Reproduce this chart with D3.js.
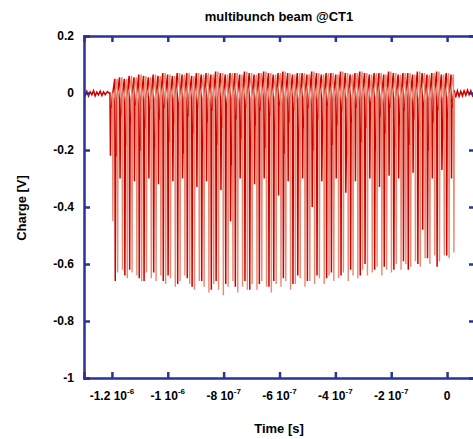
<!DOCTYPE html>
<meta charset="utf-8">
<style>
  body { margin: 0; background: #fff; }
  svg { font-family: Arial, "Liberation Sans", sans-serif; font-weight: bold; }
  .axis path, .axis line { stroke: #283593; stroke-width: 2.5px; }
  .axis text { font-size: 12px; font-weight: bold; fill: #000; font-family: Arial, "Liberation Sans", sans-serif; }
</style>
<svg width="473" height="439"></svg>
<script src="https://d3js.org/d3.v7.min.js"></script>
<script>
  // tick values and labels
  var yTicks = [0.2, 0, -0.2, -0.4, -0.6, -0.8, -1];
  var yLabels = ["0.2", "0", "-0.2", "-0.4", "-0.6", "-0.8", "-1"];
  var xTicks = [-1.2e-6, -1e-6, -8e-7, -6e-7, -4e-7, -2e-7, 0];
  var xMant = ["-1.2", "-1", "-8", "-6", "-4", "-2", "0"];
  var xExp = ["-6", "-6", "-7", "-7", "-7", "-7", ""];

  // bunch train, one entry per bunch
  var bunchStart = -1.207e-6, bunchSpacing = 1.72e-8;
  var bunchHigh = [0.0, 0.05, 0.055, 0.05, 0.06, 0.055, 0.065, 0.06, 0.055, 0.065,
    0.06, 0.07, 0.065, 0.06, 0.07, 0.065, 0.07, 0.06, 0.07, 0.065,
    0.07, 0.065, 0.075, 0.07, 0.065, 0.07, 0.07, 0.065, 0.075, 0.07,
    0.065, 0.07, 0.075, 0.07, 0.065, 0.07, 0.075, 0.07, 0.065, 0.07,
    0.07, 0.065, 0.075, 0.07, 0.065, 0.07, 0.07, 0.065, 0.075, 0.07,
    0.065, 0.07, 0.075, 0.07, 0.065, 0.07, 0.07, 0.065, 0.075, 0.07,
    0.065, 0.07, 0.07, 0.065, 0.075, 0.07, 0.065, 0.07, 0.075, 0.065,
    0.07, 0.065];
  var darkLow = [-0.22, -0.66, -0.30, -0.64, -0.62, -0.31, -0.65, -0.66, -0.30, -0.63,
    -0.32, -0.66, -0.64, -0.31, -0.67, -0.30, -0.65, -0.68, -0.33, -0.66,
    -0.31, -0.69, -0.66, -0.34, -0.67, -0.45, -0.68, -0.30, -0.66, -0.69,
    -0.32, -0.67, -0.30, -0.68, -0.66, -0.36, -0.65, -0.31, -0.67, -0.64,
    -0.30, -0.66, -0.40, -0.64, -0.31, -0.65, -0.63, -0.30, -0.64, -0.35,
    -0.62, -0.31, -0.64, -0.60, -0.30, -0.62, -0.33, -0.61, -0.29, -0.62,
    -0.30, -0.59, -0.62, -0.28, -0.60, -0.48, -0.58, -0.30, -0.61, -0.27,
    -0.57, -0.30];
  var darkMid = [-0.05, -0.22, -0.08, -0.18, -0.10, -0.04, -0.20, -0.12, -0.06, -0.19,
    -0.09, -0.05, -0.17, -0.11, -0.04, -0.21, -0.08, -0.14, -0.05, -0.20,
    -0.10, -0.06, -0.18, -0.12, -0.04, -0.25, -0.09, -0.16, -0.05, -0.20,
    -0.11, -0.06, -0.19, -0.08, -0.13, -0.04, -0.21, -0.10, -0.06, -0.17,
    -0.12, -0.05, -0.20, -0.09, -0.15, -0.04, -0.18, -0.11, -0.06, -0.22,
    -0.10, -0.05, -0.17, -0.12, -0.04, -0.20, -0.08, -0.14, -0.05, -0.19,
    -0.11, -0.06, -0.18, -0.09, -0.13, -0.04, -0.20, -0.10, -0.06, -0.16,
    -0.08, -0.05];
  var lightLow = [-0.45, -0.63, -0.62, -0.65, -0.63, -0.64, -0.66, -0.63, -0.65, -0.66,
    -0.64, -0.67, -0.65, -0.68, -0.66, -0.64, -0.67, -0.69, -0.66, -0.68,
    -0.70, -0.67, -0.69, -0.71, -0.68, -0.66, -0.70, -0.68, -0.69, -0.67,
    -0.69, -0.66, -0.68, -0.70, -0.67, -0.68, -0.66, -0.69, -0.67, -0.65,
    -0.68, -0.66, -0.67, -0.65, -0.67, -0.64, -0.66, -0.65, -0.63, -0.66,
    -0.64, -0.65, -0.62, -0.64, -0.63, -0.61, -0.64, -0.62, -0.63, -0.60,
    -0.62, -0.60, -0.61, -0.59, -0.61, -0.58, -0.60, -0.57, -0.59, -0.57,
    -0.58, -0.56];
  var lightRecover = [-0.03, -0.02, -0.04, -0.03, -0.02, -0.04, -0.03, -0.02, -0.04, -0.03,
    -0.02, -0.04, -0.03, -0.02, -0.04, -0.03, -0.02, -0.04, -0.03, -0.02,
    -0.04, -0.03, -0.02, -0.04, -0.03, -0.02, -0.04, -0.03, -0.02, -0.04,
    -0.03, -0.02, -0.04, -0.03, -0.02, -0.04, -0.03, -0.02, -0.04, -0.03,
    -0.02, -0.04, -0.03, -0.02, -0.04, -0.03, -0.02, -0.04, -0.03, -0.02,
    -0.04, -0.03, -0.02, -0.04, -0.03, -0.02, -0.04, -0.03, -0.02, -0.04,
    -0.03, -0.02, -0.04, -0.03, -0.02, -0.04, -0.03, -0.02, -0.04, -0.03,
    -0.02, 0.0];

  // baseline noise before and after the train
  var preTime = [-1.30e-6, -1.295e-6, -1.29e-6, -1.284e-6, -1.278e-6, -1.272e-6, -1.266e-6, -1.26e-6,
    -1.254e-6, -1.248e-6, -1.242e-6, -1.236e-6, -1.23e-6, -1.224e-6, -1.216e-6, -1.21e-6];
  var preVal = [0.002, -0.008, 0.006, -0.01, 0.004, -0.006, 0.008, -0.01, 0.003, -0.007,
    0.006, -0.009, 0.004, -0.006, 0.005, 0.0];
  var postTime = [1.9e-8, 2.5e-8, 3.1e-8, 3.7e-8, 4.3e-8, 4.9e-8, 5.5e-8, 6.1e-8, 6.7e-8, 7.3e-8, 7.9e-8, 8.5e-8, 9.1e-8, 1e-7];
  var postVal = [-0.03, 0.01, -0.015, 0.008, -0.012, 0.006, -0.01, 0.008, -0.008, 0.01, -0.006, 0.008, -0.01, 0.004];

  var svg = d3.select("svg"),
    pLeft = 84, pTop = 36, pRight = 475, pBottom = 378;

  var x = d3.scaleLinear().domain([-1.3e-6, 1e-7]).range([pLeft, pRight]);
  var y = d3.scaleLinear().domain([-1, 0.2]).range([pBottom, pTop]);

  svg.append("defs").append("clipPath").attr("id", "plot")
    .append("rect").attr("x", pLeft).attr("y", pTop).attr("width", pRight - pLeft).attr("height", pBottom - pTop);

  // assemble the two traces: narrow spikes per bunch
  var dark = [], light = [];
  preTime.forEach(function (t, i) { dark.push([t, preVal[i]]); });
  bunchHigh.forEach(function (h, i) {
    var t = bunchStart + i * bunchSpacing;
    dark.push([t, h]);
    dark.push([t + 0.1 * bunchSpacing, darkLow[i]]);
    dark.push([t + 0.2 * bunchSpacing, darkMid[i]]);
    dark.push([t + 0.32 * bunchSpacing, darkMid[i]]);
    dark.push([t + 0.42 * bunchSpacing, -0.02]);
    light.push([t + 0.5 * bunchSpacing, h]);
    light.push([t + 0.6 * bunchSpacing, lightLow[i]]);
    light.push([t + 0.7 * bunchSpacing, lightRecover[i]]);
  });
  postTime.forEach(function (t, i) { dark.push([t, postVal[i]]); });

  var line = d3.line().x(function (d) { return x(d[0]); }).y(function (d) { return y(d[1]); });

  var traces = svg.append("g").attr("clip-path", "url(#plot)");
  traces.append("path").datum(dark)
    .attr("d", line).attr("fill", "none").attr("stroke", "#cc0000").attr("stroke-width", 1.5);
  traces.append("path").datum(light)
    .attr("d", line).attr("fill", "none").attr("stroke", "#e88a72").attr("stroke-width", 1.4);

  // frame with inward ticks
  svg.append("g").attr("class", "axis").attr("transform", "translate(" + pLeft + ",0)")
    .call(d3.axisLeft(y).tickValues(yTicks).tickSize(-6).tickPadding(10)
      .tickFormat(function (d, i) { return yLabels[i]; }));
  svg.append("g").attr("class", "axis").attr("transform", "translate(" + pRight + ",0)")
    .call(d3.axisRight(y).tickValues(yTicks).tickSize(-6).tickFormat(""));
  svg.append("g").attr("class", "axis").attr("transform", "translate(0," + pBottom + ")")
    .call(d3.axisBottom(x).tickValues(xTicks).tickSize(-6).tickFormat(""));
  svg.append("g").attr("class", "axis").attr("transform", "translate(0," + pTop + ")")
    .call(d3.axisTop(x).tickValues(xTicks).tickSize(-6).tickFormat(""));

  // x tick labels with exponent
  var xl = svg.append("g");
  xTicks.forEach(function (t, i) {
    var txt = xl.append("text").attr("x", x(t)).attr("y", pBottom + 22)
      .attr("text-anchor", "middle").style("font-size", "12px");
    txt.append("tspan").text(xExp[i] ? xMant[i] + " 10" : xMant[i]);
    if (xExp[i]) txt.append("tspan").attr("dy", -6).style("font-size", "8px").text(xExp[i]);
  });

  svg.append("text").attr("x", 279).attr("y", 21).attr("text-anchor", "middle")
    .style("font-size", "13px").text("multibunch beam @CT1");
  svg.append("text").attr("x", 279).attr("y", 433).attr("text-anchor", "middle")
    .style("font-size", "13px").text("Time [s]");
  svg.append("text").attr("transform", "translate(26,208) rotate(-90)").attr("text-anchor", "middle")
    .style("font-size", "13px").text("Charge [V]");
</script>
